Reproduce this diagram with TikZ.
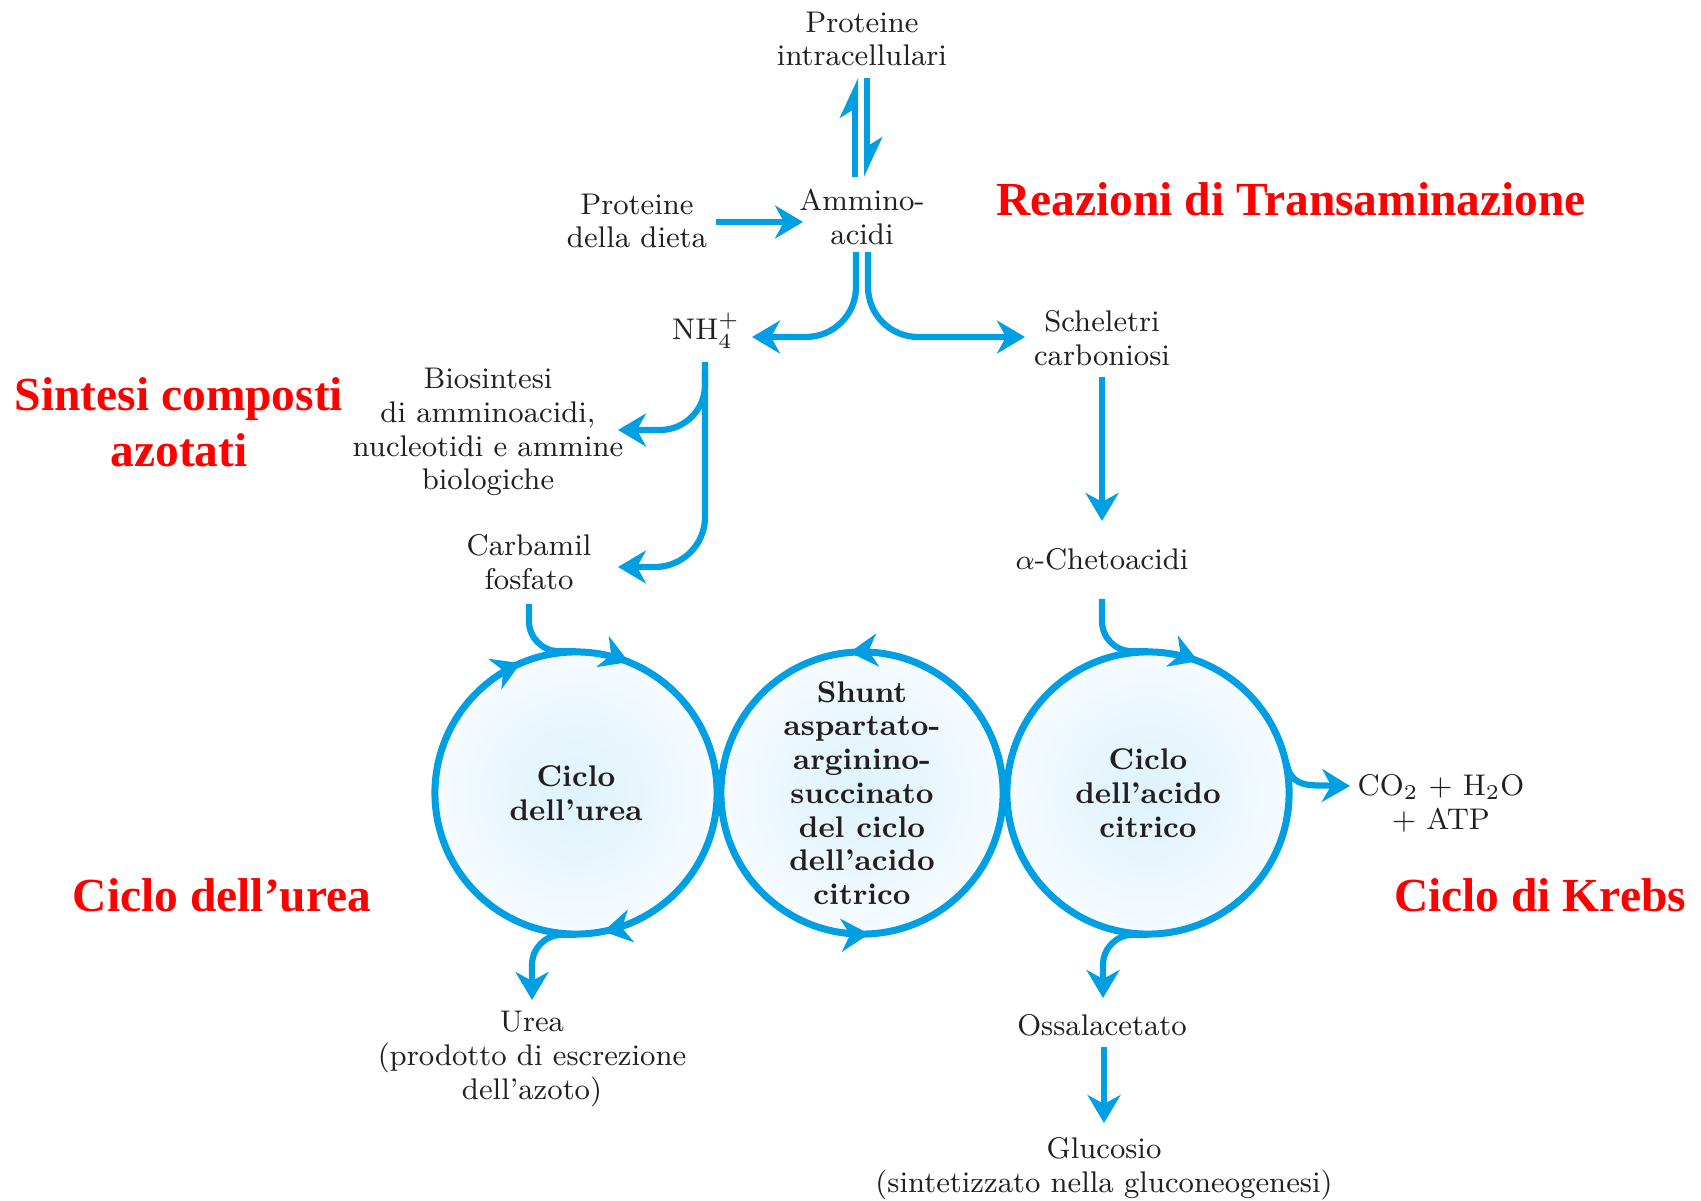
\documentclass[tikz,border=0pt]{standalone}
\usepackage{fontspec}
\usepackage{tikz}
\usetikzlibrary{arrows.meta,calc,decorations.markings}
\newfontfamily\redfont{Liberation Serif}
\definecolor{cyb}{RGB}{0,159,227}
\definecolor{ink}{RGB}{35,31,32}
\pgfdeclareradialshading{glow}{\pgfpoint{0bp}{0bp}}{color(0bp)=(cyb!13); color(12bp)=(cyb!9); color(26bp)=(cyb!3); color(34bp)=(white); color(50bp)=(white)}

\begin{document}
\begin{tikzpicture}[
  x=0.01cm, y=0.01cm,
  lbl/.style={align=center, inner sep=0pt, text=ink, font=\fontsize{8.5}{9.6}\selectfont},
  cyc/.style={circle, minimum size=28.2mm, inner sep=0pt, shade, shading=glow, align=center, text=ink, font=\fontsize{8.5}{9.6}\selectfont\bfseries},
  title/.style={align=center, inner sep=0pt, text=red, font=\fontsize{13.5}{16}\redfont\bfseries},
  bigtip/.tip={Stealth[length=2.8mm,width=3.3mm,inset=0.9mm]},
  flow/.style={cyb, line width=0.62mm, -{bigtip}},
  ring/.style={cyb, line width=0.7mm},
  harp/.style={cyb, line width=0.62mm, -{Stealth[left,length=3.3mm,width=3mm,inset=0.9mm]}}
]
\useasboundingbox (0,0) rectangle (1701,-1201);

\node[lbl] (intra) at (862,-39) {Proteine\\intracellulari};
\node[lbl] (amino) at (862,-217) {Ammino-\\acidi};
\node[lbl] (dieta) at (637,-221) {Proteine\\della dieta};
\node[lbl] (nh4) at (706,-331) {NH$_4^+$};
\node[lbl] (schel) at (1102,-338) {Scheletri\\carboniosi};
\node[lbl] (bios) at (488,-432) {Biosintesi\\di amminoacidi,\\nucleotidi e ammine\\biologiche};
\node[lbl] (carb) at (529,-562) {Carbamil\\fosfato};
\node[lbl] (cheto) at (1102,-559) {$\alpha$-Chetoacidi};
\node[cyc] (ureacyc) at (576,-793) {Ciclo\\dell’urea};
\node[cyc] (shunt) at (862,-793) {Shunt\\aspartato-\\arginino-\\succinato\\del ciclo\\dell’acido\\citrico};
\node[cyc] (krebs) at (1148,-793) {Ciclo\\dell’acido\\citrico};
\node[lbl] (urea) at (532,-1059) {Urea\\(prodotto di escrezione\\dell’azoto)};
\node[lbl] (co2) at (1441,-803) {CO$_2$ + H$_2$O\\+ ATP};
\node[lbl] (oxal) at (1102,-1025) {Ossalacetato};
\node[lbl] (gluc) at (1104,-1169) {Glucosio\\(sintetizzato nella gluconeogenesi)};

% red titles
\node[title] (transam) at (1291,-199) {Reazioni di Transaminazione};
\node[title] (sintesi) at (179,-422) {Sintesi composti\\azotati};
\node[title] (ureatit) at (222,-895) {Ciclo dell’urea};
\node[title] (krebstit) at (1540,-895) {Ciclo di Krebs};

% top of the pathway
\draw[harp] ($(amino)+(-7,40)$) -- ($(intra)+(-7,-39)$);
\draw[harp] ($(intra)+(5,-39)$) -- ($(amino)+(5,40)$);
\draw[flow] ($(dieta)+(79,-1)$) -- ($(amino)+(-59,-5)$);
\draw[flow, rounded corners=5mm] ($(amino)+(-6,-35)$) |- ($(nh4)+(46,-6)$);
\draw[flow, rounded corners=5mm] ($(amino)+(6,-35)$) |- ($(schel)+(-77,1)$);
\draw[flow, rounded corners=4.5mm] ($(nh4)+(-1,-39)$) |- ($(bios)+(130,2)$);
\draw[flow, rounded corners=5mm] ($(nh4)+(-1,-31)$) |- ($(carb)+(89,-5)$);
\draw[flow] ($(schel)+(0,-39)$) -- ($(cheto)+(0,38)$);

% into and out of the cycles
\draw[flow, -, rounded corners=3mm] ($(carb)+(0,-42)$) |- (ureacyc.north);
\draw[flow, rounded corners=3mm] (ureacyc.south) -| ($(urea)+(0,59)$);
\draw[flow, -, rounded corners=3mm] ($(cheto)+(0,-40)$) |- (krebs.north);
\draw[flow, rounded corners=3mm] (krebs.south) -| ($(oxal)+(1,27)$);
\draw[flow] (krebs.12) .. controls ($(krebs.12)+(4,-20)$) and ($(krebs.12)+(16,-22)$) .. ($(krebs.12)+(36,-22)$) -- ($(co2)+(-91,17)$);
\draw[flow] ($(oxal)+(2,-22)$) -- ($(gluc)+(0,46)$);

% the three rings
\draw[ring, postaction={decorate}, decoration={markings,
  mark=at position 0.189 with {\arrowreversed{bigtip}},
  mark=at position 0.314 with {\arrowreversed{bigtip}},
  mark=at position 0.781 with {\arrowreversed{bigtip}}}] (ureacyc.center) circle[radius=14.1mm];
\draw[ring, postaction={decorate}, decoration={markings,
  mark=at position 0.264 with {\arrow{bigtip}},
  mark=at position 0.758 with {\arrow{bigtip}}}] (shunt.center) circle[radius=14.1mm];
\draw[ring, postaction={decorate}, decoration={markings,
  mark=at position 0.192 with {\arrowreversed{bigtip}}}] (krebs.center) circle[radius=14.1mm];
\end{tikzpicture}
\end{document}
